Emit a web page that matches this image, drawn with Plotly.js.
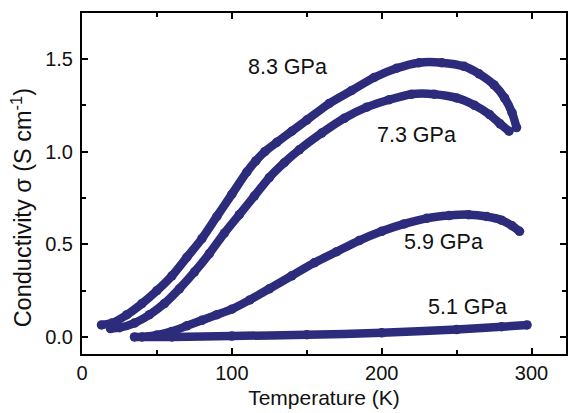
<!DOCTYPE html>
<html>
<head>
<meta charset="utf-8">
<script src="https://cdn.plot.ly/plotly-3.0.1.min.js"></script>
<style>html,body{margin:0;padding:0;background:#fff;}#chart{width:568px;height:413px;}</style>
</head>
<body>
<div id="chart"></div>
<script>
// Series: temperature (K) and conductivity (S cm^-1)
const t83 = [13, 20, 30, 40, 50, 60, 70, 80, 90, 100, 110, 116, 122, 130, 140, 150, 165, 180, 195, 210, 225, 240, 255, 265, 275, 282, 287, 290];
const s83 = [0.065, 0.075, 0.12, 0.18, 0.25, 0.33, 0.43, 0.53, 0.65, 0.77, 0.89, 0.95, 1.00, 1.05, 1.11, 1.17, 1.26, 1.33, 1.40, 1.45, 1.48, 1.48, 1.46, 1.42, 1.36, 1.29, 1.21, 1.13];

const t73 = [19, 25, 35, 45, 55, 65, 75, 85, 95, 105, 115, 125, 135, 145, 160, 175, 190, 205, 220, 235, 250, 262, 272, 279, 285];
const s73 = [0.045, 0.05, 0.075, 0.12, 0.18, 0.26, 0.35, 0.45, 0.56, 0.66, 0.76, 0.86, 0.94, 1.01, 1.10, 1.18, 1.24, 1.28, 1.31, 1.31, 1.29, 1.25, 1.20, 1.15, 1.11];

const t59 = [40, 50, 60, 70, 80, 90, 100, 112, 125, 140, 155, 170, 185, 200, 215, 230, 245, 258, 270, 280, 287, 292];
const s59 = [0.0, 0.01, 0.03, 0.06, 0.09, 0.12, 0.15, 0.20, 0.26, 0.33, 0.40, 0.46, 0.52, 0.57, 0.61, 0.64, 0.655, 0.66, 0.65, 0.63, 0.60, 0.57];

const t51 = [35, 60, 100, 150, 200, 250, 280, 297];
const s51 = [0.0, 0.0, 0.005, 0.012, 0.022, 0.04, 0.055, 0.065];

const seriesNames = ['8.3 GPa', '7.3 GPa', '5.9 GPa', '5.1 GPa'];
const labelT = [137, 223, 241, 257];
const labelS = [1.455, 1.09, 0.51, 0.16];

const xTickVals = [0, 100, 200, 300];
const yTickVals = [0.0, 0.5, 1.0, 1.5];
const yTickText = ['0.0', '0.5', '1.0', '1.5'];

const xTitle = 'Temperature (K)';
const yTitle = 'Conductivity σ (S cm<sup>-1</sup>)';

const navy = '#2c2b7c';
const font = 'Liberation Sans, Arial, sans-serif';

function trace(x, y, name) {
  return {
    x: x, y: y, name: name, type: 'scatter', mode: 'lines+markers',
    line: {color: navy, width: 8.5, shape: 'spline', smoothing: 0.7},
    marker: {color: navy, size: 9.5},
    showlegend: false, hoverinfo: 'x+y'
  };
}

const data = [
  trace(t83, s83, seriesNames[0]),
  trace(t73, s73, seriesNames[1]),
  trace(t59, s59, seriesNames[2]),
  trace(t51, s51, seriesNames[3])
];

const annotations = seriesNames.map((n, i) => ({
  x: labelT[i], y: labelS[i], xref: 'x', yref: 'y', text: n, showarrow: false,
  font: {family: font, size: 21.5, color: '#111'}
}));
annotations.push({
  xref: 'paper', yref: 'paper', x: -0.124, y: 0.43, xanchor: 'center', yanchor: 'middle',
  text: yTitle, textangle: -90, showarrow: false,
  font: {family: font, size: 23.5, color: '#111'}
});

const axisCommon = {
  showgrid: false, zeroline: false, showline: true, linecolor: '#000', linewidth: 2,
  mirror: 'allticks', ticks: 'inside', ticklen: 6, tickwidth: 2, tickcolor: '#000',
  tickfont: {family: font, size: 20, color: '#111'}
};

const layout = {
  width: 568, height: 413,
  margin: {l: 82, r: 2, t: 13, b: 59},
  paper_bgcolor: '#fff', plot_bgcolor: '#fff',
  xaxis: Object.assign({}, axisCommon, {
    range: [0, 323], tickvals: xTickVals,
    minor: {dtick: 50, tick0: 0, ticks: 'inside', ticklen: 4, tickwidth: 2, tickcolor: '#000'},
    title: {text: xTitle, font: {family: font, size: 21, color: '#111'}, standoff: 7}
  }),
  yaxis: Object.assign({}, axisCommon, {
    range: [-0.092, 1.748], tickvals: yTickVals, ticktext: yTickText,
    ticklabelstandoff: 3,
    minor: {dtick: 0.25, tick0: 0, ticks: 'inside', ticklen: 4, tickwidth: 2, tickcolor: '#000'}
  }),
  annotations: annotations
};

Plotly.newPlot('chart', data, layout, {displayModeBar: false, staticPlot: true});
</script>
</body>
</html>
